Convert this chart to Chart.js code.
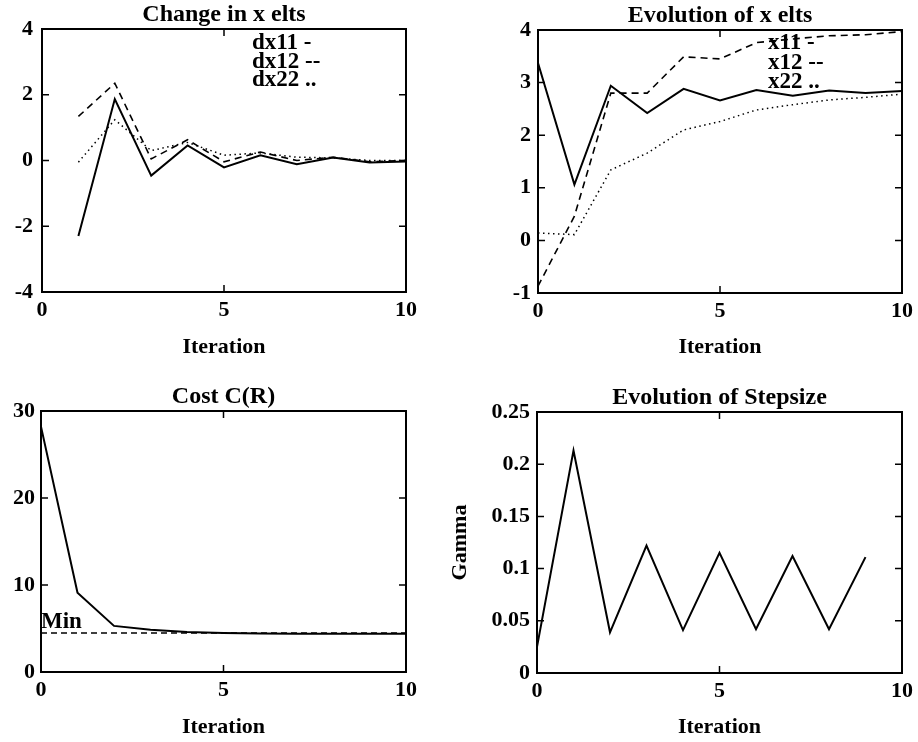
<!DOCTYPE html>
<html><head><meta charset="utf-8">
<script src="https://cdn.jsdelivr.net/npm/chart.js@4.4.1/dist/chart.umd.min.js"></script>
<style>
html,body{margin:0;padding:0;background:#fff;}
body{width:918px;height:742px;position:relative;overflow:hidden;}
canvas{position:absolute;display:block;}
</style></head><body>
<canvas id="c1" width="459" height="370" style="left:0;top:0"></canvas>
<canvas id="c2" width="488" height="370" style="left:430px;top:0"></canvas>
<canvas id="c3" width="459" height="371" style="left:0;top:371px"></canvas>
<canvas id="c4" width="488" height="371" style="left:430px;top:371px"></canvas>
<script>
// ---- data ----
const iterA = [1,2,3,4,5,6,7,8,9,10];
const dx11 = [-2.3, 1.87, -0.46, 0.46, -0.21, 0.16, -0.11, 0.09, -0.06, -0.03];
const dx12 = [1.34, 2.35, 0.05, 0.63, -0.04, 0.26, 0.0, 0.1, -0.04, 0.0];
const dx22 = [-0.05, 1.24, 0.3, 0.55, 0.16, 0.23, 0.1, 0.08, 0.0, 0.0];
const labelsA = ['dx11 -', 'dx12 --', 'dx22 ..'];

const iterB = [0,1,2,3,4,5,6,7,8,9,10];
const x11 = [3.37, 1.06, 2.94, 2.42, 2.88, 2.66, 2.86, 2.75, 2.85, 2.8, 2.84];
const x12 = [-0.87, 0.46, 2.8, 2.8, 3.49, 3.45, 3.76, 3.83, 3.89, 3.91, 3.97];
const x22 = [0.14, 0.11, 1.34, 1.66, 2.1, 2.26, 2.48, 2.58, 2.67, 2.72, 2.78];
const labelsB = ['x11 -', 'x12 --', 'x22 ..'];

const iterC = [0,1,2,3,4,5,6,7,8,9,10];
const cost = [28.2, 9.1, 5.3, 4.87, 4.6, 4.48, 4.43, 4.41, 4.4, 4.4, 4.4];
const minCost = 4.47;
const minLabel = 'Min';

const iterD = [0,1,2,3,4,5,6,7,8,9];
const gamma = [0.025, 0.213, 0.039, 0.122, 0.041, 0.115, 0.042, 0.112, 0.042, 0.111];

const xTicks = [0, 5, 10];
const xTickLabels = ['0', '5', '10'];
const yTicksA = [-4, -2, 0, 2, 4];
const yTickLabelsA = ['-4', '-2', '0', '2', '4'];
const yTicksB = [-1, 0, 1, 2, 3, 4];
const yTickLabelsB = ['-1', '0', '1', '2', '3', '4'];
const yTicksC = [0, 10, 20, 30];
const yTickLabelsC = ['0', '10', '20', '30'];
const yTicksD = [0, 0.05, 0.1, 0.15, 0.2, 0.25];
const yTickLabelsD = ['0', '0.05', '0.1', '0.15', '0.2', '0.25'];

const titles = ['Change in x elts', 'Evolution of x elts', 'Cost C(R)', 'Evolution of Stepsize'];
const xTitle = 'Iteration';
const yTitleD = 'Gamma';

// ---- helpers ----
const FAM = "'Liberation Serif', 'DejaVu Serif', serif";
const pts = (xs, ys) => xs.map((x, i) => ({x: x, y: ys[i]}));
const SOLID = {borderColor:'#000', borderWidth:2, borderDash:[], pointRadius:0, tension:0, fill:false};
const DASH = {borderColor:'#000', borderWidth:1.6, borderDash:[7,5], pointRadius:0, tension:0, fill:false};
const DOT = {borderColor:'#000', borderWidth:1.5, borderDash:[1.5,3.5], pointRadius:0, tension:0, fill:false};

const framePlugin = {
  id: 'frame',
  afterDatasetsDraw(chart, args, opts) {
    const ctx = chart.ctx, a = chart.chartArea;
    ctx.save();
    ctx.strokeStyle = '#000';
    ctx.lineWidth = 2;
    ctx.setLineDash([]);
    ctx.strokeRect(a.left, a.top, a.right - a.left, a.bottom - a.top);
    const L = 7;
    ctx.lineWidth = 1.5;
    const xs = chart.scales.x, ys = chart.scales.y;
    ctx.beginPath();
    xs.ticks.forEach(t => {
      const p = xs.getPixelForValue(t.value);
      ctx.moveTo(p, a.bottom); ctx.lineTo(p, a.bottom - L);
      ctx.moveTo(p, a.top); ctx.lineTo(p, a.top + L);
    });
    ys.ticks.forEach(t => {
      const p = ys.getPixelForValue(t.value);
      ctx.moveTo(a.left, p); ctx.lineTo(a.left + L, p);
      ctx.moveTo(a.right, p); ctx.lineTo(a.right - L, p);
    });
    ctx.stroke();
    // text annotations
    ctx.fillStyle = '#000';
    if (opts.legend) {
      ctx.font = "bold 23px " + FAM;
      ctx.textAlign = 'left';
      ctx.textBaseline = 'alphabetic';
      const lx = a.left + opts.legend.dx;
      opts.legend.texts.forEach((t, i) => {
        ctx.fillText(t, lx, a.top + opts.legend.dy + i * opts.legend.step);
      });
    }
    if (opts.minText) {
      ctx.font = "bold 23px " + FAM;
      ctx.textAlign = 'left';
      ctx.textBaseline = 'alphabetic';
      ctx.fillText(opts.minText, a.left, ys.getPixelForValue(opts.minValue) - 5);
    }
    ctx.restore();
  }
};

function makeChart(id, cfg) {
  const fontTick = {family: FAM, size: 22, weight: 'bold', lineHeight: 1.2};
  const yScale = {
    type: 'linear', min: cfg.yTicks[0], max: cfg.yTicks[cfg.yTicks.length - 1],
    afterBuildTicks: s => { s.ticks = cfg.yTicks.map(v => ({value: v})); },
    afterFit: s => { s.width = cfg.yw; },
    grid: {display: false, drawTicks: false},
    border: {display: false},
    ticks: {color: '#000', font: fontTick, padding: cfg.ypad,
      callback: (v, i) => cfg.yLabels[i]},
  };
  if (cfg.yTitle) {
    yScale.title = {display: true, text: cfg.yTitle, color: '#000', font: {family: FAM, size: 22, weight: 'bold', lineHeight: 1.2}, padding: 0};
  }
  return new Chart(document.getElementById(id), {
    type: 'line',
    data: {datasets: cfg.datasets},
    options: {
      responsive: false, animation: false,
      layout: {padding: cfg.pad},
      plugins: {
        legend: {display: false}, tooltip: {enabled: false},
        title: {display: true, text: cfg.title, color: '#000', padding: 0, fullSize: false,
          font: {family: FAM, size: 24, weight: 'bold', lineHeight: 1.15}},
        frame: cfg.frame || {}
      },
      scales: {
        x: {
          type: 'linear', min: 0, max: 10,
          afterBuildTicks: s => { s.ticks = xTicks.map(v => ({value: v})); },
          afterFit: s => { s.height = cfg.xh; },
          grid: {display: false, drawTicks: false},
          border: {display: false},
          ticks: {color: '#000', font: fontTick, padding: 5, maxRotation: 0,
            callback: (v, i) => xTickLabels[i]},
          title: {display: true, text: xTitle, color: '#000', padding: 0,
            font: {family: FAM, size: 22, weight: 'bold', lineHeight: 1.2}}
        },
        y: yScale
      }
    },
    plugins: [framePlugin]
  });
}

makeChart('c1', {
  title: titles[0], yTicks: yTicksA, yLabels: yTickLabelsA, yw: 42, ypad: 9, xh: 69,
  pad: {left: 0, right: 53, top: 1.4, bottom: 9},
  datasets: [
    Object.assign({label: labelsA[0], data: pts(iterA, dx11)}, SOLID),
    Object.assign({label: labelsA[1], data: pts(iterA, dx12)}, DASH),
    Object.assign({label: labelsA[2], data: pts(iterA, dx22)}, DOT)
  ],
  frame: {legend: {texts: labelsA, dx: 210, dy: 20, step: 18.5}}
});

makeChart('c2', {
  title: titles[1], yTicks: yTicksB, yLabels: yTickLabelsB, yw: 108, ypad: 7, xh: 68,
  pad: {left: 0, right: 14, top: 2.4, bottom: 9},
  datasets: [
    Object.assign({label: labelsB[0], data: pts(iterB, x11)}, SOLID),
    Object.assign({label: labelsB[1], data: pts(iterB, x12)}, DASH),
    Object.assign({label: labelsB[2], data: pts(iterB, x22)}, DOT)
  ],
  frame: {legend: {texts: labelsB, dx: 230, dy: 19, step: 19.5}}
});

makeChart('c3', {
  title: titles[2], yTicks: yTicksC, yLabels: yTickLabelsC, yw: 41, ypad: 6, xh: 69,
  pad: {left: 0, right: 53, top: 12.4, bottom: 1},
  datasets: [
    Object.assign({label: 'Cost', data: pts(iterC, cost)}, SOLID),
    Object.assign({label: minLabel, data: pts([iterC[0], iterC[iterC.length - 1]], [minCost, minCost])}, DASH, {borderWidth: 1.5, borderDash: [6,4]})
  ],
  frame: {minText: minLabel, minValue: minCost}
});

makeChart('c4', {
  title: titles[3], yTicks: yTicksD, yLabels: yTickLabelsD, yw: 90, ypad: 7, xh: 68, yTitle: yTitleD,
  pad: {left: 17, right: 14, top: 13.4, bottom: 1},
  datasets: [
    Object.assign({label: yTitleD, data: pts(iterD, gamma)}, SOLID)
  ]
});
</script>
</body></html>
